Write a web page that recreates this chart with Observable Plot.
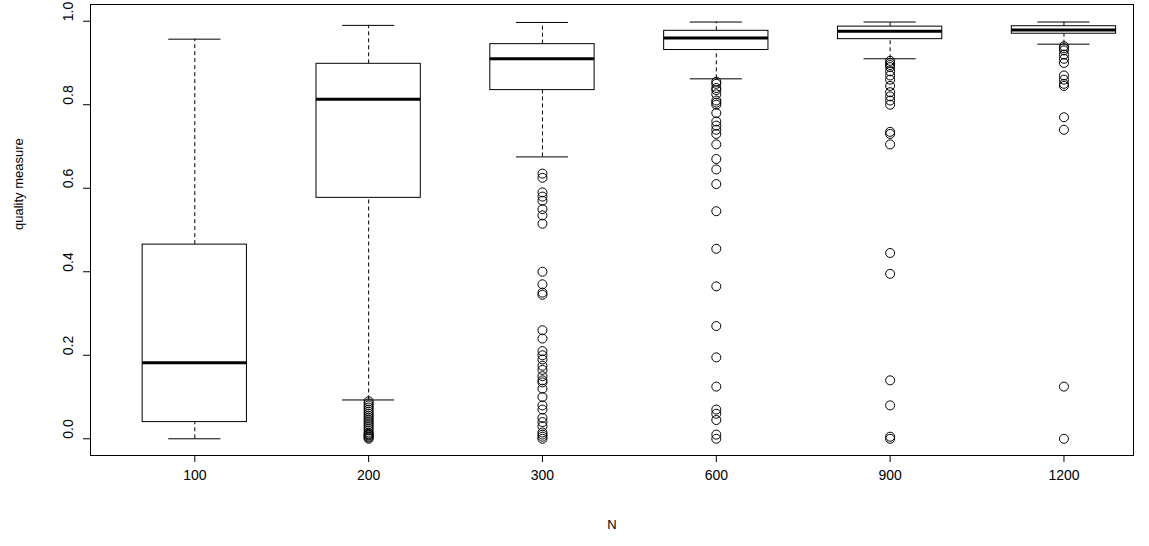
<!DOCTYPE html>
<html><head><meta charset="utf-8">
<script src="https://cdn.jsdelivr.net/npm/d3@7"></script>
<script src="https://cdn.jsdelivr.net/npm/@observablehq/plot@0.6"></script>
<style>body{margin:0;background:#fff}svg{font-family:"Liberation Sans",Arial,sans-serif}</style>
</head><body><div id="chart"></div>
<script>
const groups = ["100", "200", "300", "600", "900", "1200"]
const yTicks = [0, 0.2, 0.4, 0.6, 0.8, 1.0]
const lowWhisker = [0.0, 0.093, 0.675, 0.862, 0.91, 0.945]
const q1 = [0.04, 0.577, 0.835, 0.931, 0.957, 0.97]
const median = [0.182, 0.813, 0.91, 0.96, 0.976, 0.979]
const q3 = [0.465, 0.898, 0.945, 0.977, 0.987, 0.988]
const highWhisker = [0.957, 0.99, 0.997, 0.998, 0.998, 0.998]
const outliers = [
  [],
  [0.09, 0.085, 0.08, 0.075, 0.07, 0.065, 0.06, 0.055, 0.05, 0.045, 0.04, 0.035, 0.03, 0.025, 0.02, 0.015, 0.012, 0.01, 0.008, 0.005, 0.003, 0.0],
  [0.635, 0.625, 0.59, 0.58, 0.57, 0.55, 0.535, 0.515, 0.40, 0.37, 0.35, 0.345, 0.26, 0.24, 0.21, 0.2, 0.19, 0.175, 0.165, 0.15, 0.14, 0.135, 0.12, 0.1, 0.08, 0.07, 0.05, 0.04, 0.03, 0.015, 0.01, 0.005, 0.0],
  [0.855, 0.85, 0.84, 0.835, 0.825, 0.81, 0.805, 0.8, 0.78, 0.76, 0.75, 0.74, 0.73, 0.705, 0.67, 0.645, 0.61, 0.545, 0.455, 0.365, 0.27, 0.195, 0.125, 0.07, 0.06, 0.045, 0.01, 0.0],
  [0.905, 0.9, 0.895, 0.89, 0.88, 0.87, 0.86, 0.845, 0.83, 0.82, 0.81, 0.8, 0.735, 0.73, 0.705, 0.445, 0.395, 0.14, 0.08, 0.005, 0.0],
  [0.94, 0.935, 0.93, 0.92, 0.91, 0.9, 0.87, 0.86, 0.85, 0.845, 0.77, 0.74, 0.125, 0.0]
]

const boxes = groups.map((g, i) => ({pos: i + 1, lo: lowWhisker[i], q1: q1[i], med: median[i], q3: q3[i], hi: highWhisker[i]}))
const points = outliers.flatMap((vals, i) => vals.map(v => ({pos: i + 1, v})))
const hw = 0.3, cap = 0.15

const chart = Plot.plot({
  width: 1149, height: 546,
  marginLeft: 90, marginRight: 16, marginTop: 4, marginBottom: 91,
  style: {fontSize: "14px", fontFamily: "Liberation Sans, Arial, sans-serif", color: "#000"},
  x: {domain: [0.4, 6.4]},
  y: {domain: [-0.04, 1.04]},
  marks: [
    Plot.frame({stroke: "#000"}),
    Plot.axisY({ticks: yTicks, tickFormat: () => "", tickSize: 7, label: null}),
    Plot.text(yTicks, {y: d => d, text: d3.format(".1f"), frameAnchor: "left", dx: -22, rotate: -90, fontSize: 14, fill: "#000"}),
    Plot.text(["quality measure"], {frameAnchor: "left", dx: -72, rotate: -90, fontSize: 13, fill: "#000"}),
    Plot.axisX({ticks: groups.map((g, i) => i + 1), tickFormat: d => groups[d - 1], tickSize: 7, tickPadding: 8, fontSize: 14, label: null}),
    Plot.text(["N"], {frameAnchor: "bottom", dy: 73, fontSize: 13, fill: "#000"}),
    Plot.ruleX(boxes, {x: "pos", y1: "q3", y2: "hi", stroke: "#000", strokeDasharray: "4,3"}),
    Plot.ruleX(boxes, {x: "pos", y1: "lo", y2: "q1", stroke: "#000", strokeDasharray: "4,3"}),
    Plot.ruleY(boxes, {y: "hi", x1: d => d.pos - cap, x2: d => d.pos + cap, stroke: "#000"}),
    Plot.ruleY(boxes, {y: "lo", x1: d => d.pos - cap, x2: d => d.pos + cap, stroke: "#000"}),
    Plot.rect(boxes, {x1: d => d.pos - hw, x2: d => d.pos + hw, y1: "q1", y2: "q3", fill: "#fff", stroke: "#000"}),
    Plot.ruleY(boxes, {y: "med", x1: d => d.pos - hw, x2: d => d.pos + hw, stroke: "#000", strokeWidth: 3}),
    Plot.dot(points, {x: "pos", y: "v", r: 4.5, stroke: "#000", strokeWidth: 1})
  ]
})
document.getElementById("chart").append(chart)
</script></body></html>
